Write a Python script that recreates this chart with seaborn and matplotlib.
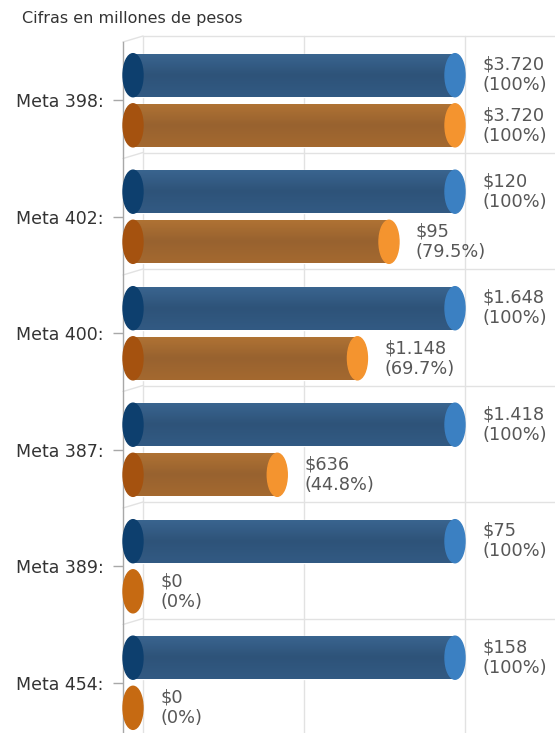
import numpy as np
import pandas as pd
import matplotlib
matplotlib.use("Agg")
import matplotlib.pyplot as plt
from matplotlib.patches import Ellipse
from matplotlib.colors import LinearSegmentedColormap
import seaborn as sns

metas = ["Meta 398:", "Meta 402:", "Meta 400:", "Meta 387:", "Meta 389:", "Meta 454:"]
programado = [3720, 120, 1648, 1418, 75, 158]
ejecutado = [3720, 95, 1148, 636, 0, 0]
pct_programado = [100, 100, 100, 100, 100, 100]
pct_ejecutado = [100, 79.5, 69.7, 44.8, 0, 0]

series = ["Programado", "Ejecutado"]

df = pd.DataFrame({
    "meta": metas * 2,
    "serie": [series[0]] * len(metas) + [series[1]] * len(metas),
    "pct": pct_programado + pct_ejecutado,
    "valor": programado + ejecutado,
})

sns.set_theme(style="white")
plt.rcParams["font.family"] = ["DejaVu Sans"]

# colours: body gradient (top, middle, bottom), left cap, right cap, zero cap
estilos = {
    "Programado": dict(body=["#3a6590", "#2e5379", "#325a83"], left="#0d3f6e", right="#3b80c2", zero="#0d3f6e"),
    "Ejecutado": dict(body=["#b07334", "#98622f", "#a46930"], left="#a5520f", right="#f4942f", zero="#c66a12"),
}

W, H = 555, 733
fig = plt.figure(figsize=(W / 100, H / 100), dpi=100)
# axes: left edge at px 123, top at px 42, one category = 116.6 px
ax = fig.add_axes([123 / W, (H - 741) / H, (W - 123) / W, 699 / H])

sns.barplot(data=df, y="meta", x="pct", hue="serie", orient="h", width=0.86, gap=0.14,
            palette=["#2e5379", "#98622f"], legend=False, ax=ax, zorder=2)

px = 3.22  # pixels per percent unit
cap_w = 20 / px
dx, dy = 10 / px, -6 / 116.6
xmin, xmax = -10 / px, (W - 133) / px

# 3D back wall grid
grid_c = "#e2e2e2"
for v in [0, 50, 100]:
    ax.plot([v + dx, v + dx], [-0.5 + dy, 5.6], color=grid_c, lw=1, zorder=0, clip_on=False)
for k in range(6):
    yb = k - 0.5 + dy
    ax.plot([dx, xmax], [yb, yb], color=grid_c, lw=1, zorder=0, clip_on=False)
    ax.plot([xmin, dx], [k - 0.5, yb], color=grid_c, lw=1, zorder=0, clip_on=False)

for cont, serie in zip(ax.containers, series):
    est = estilos[serie]
    cmap = LinearSegmentedColormap.from_list(serie, est["body"])
    sub = df[df["serie"] == serie].reset_index(drop=True)
    for i, bar in enumerate(cont):
        x0, y0 = bar.get_x(), bar.get_y()
        w, h = bar.get_width(), bar.get_height()
        yc = y0 + h / 2
        if w > 0:
            img = ax.imshow(np.linspace(0, 1, 60).reshape(-1, 1), cmap=cmap, aspect="auto",
                            extent=(x0, x0 + w, y0 + h, y0), zorder=2.5)
            img.set_clip_path(bar)
            ax.add_patch(Ellipse((x0, yc), cap_w, h, color=est["left"], zorder=3, clip_on=False))
            ax.add_patch(Ellipse((x0 + w, yc), cap_w, h, color=est["right"], zorder=3, clip_on=False))
        else:
            bar.set_visible(False)
            ax.add_patch(Ellipse((x0, yc), cap_w, h, color=est["zero"], zorder=3, clip_on=False))
        valor = "${:,}".format(sub.loc[i, "valor"]).replace(",", ".")
        pct = "({:g}%)".format(sub.loc[i, "pct"])
        ax.annotate(valor + "\n" + pct, xy=(x0 + w, yc), xytext=(27, 0), textcoords="offset pixels",
                    ha="left", va="center", fontsize=12.8, color="#575757", linespacing=1.18,
                    zorder=4, annotation_clip=False)

ax.set_xlim(xmin, xmax)
ax.set_ylim(5.5, -0.5)
ax.set_xlabel("")
ax.set_ylabel("")
ax.set_xticks([])
for s in ["top", "right", "bottom"]:
    ax.spines[s].set_visible(False)
ax.spines["left"].set_color("#a8a8a8")
ax.spines["left"].set_linewidth(1)
ax.tick_params(axis="y", length=7, width=1, color="#a8a8a8", pad=7, labelsize=12.5,
               labelcolor="#333333", left=True)
ax.set_facecolor("none")

fig.text(22 / W, 1 - 18 / H, "Cifras en millones de pesos", fontsize=11.5, color="#333333",
         ha="left", va="center")

fig.savefig("out.png", dpi=100)
